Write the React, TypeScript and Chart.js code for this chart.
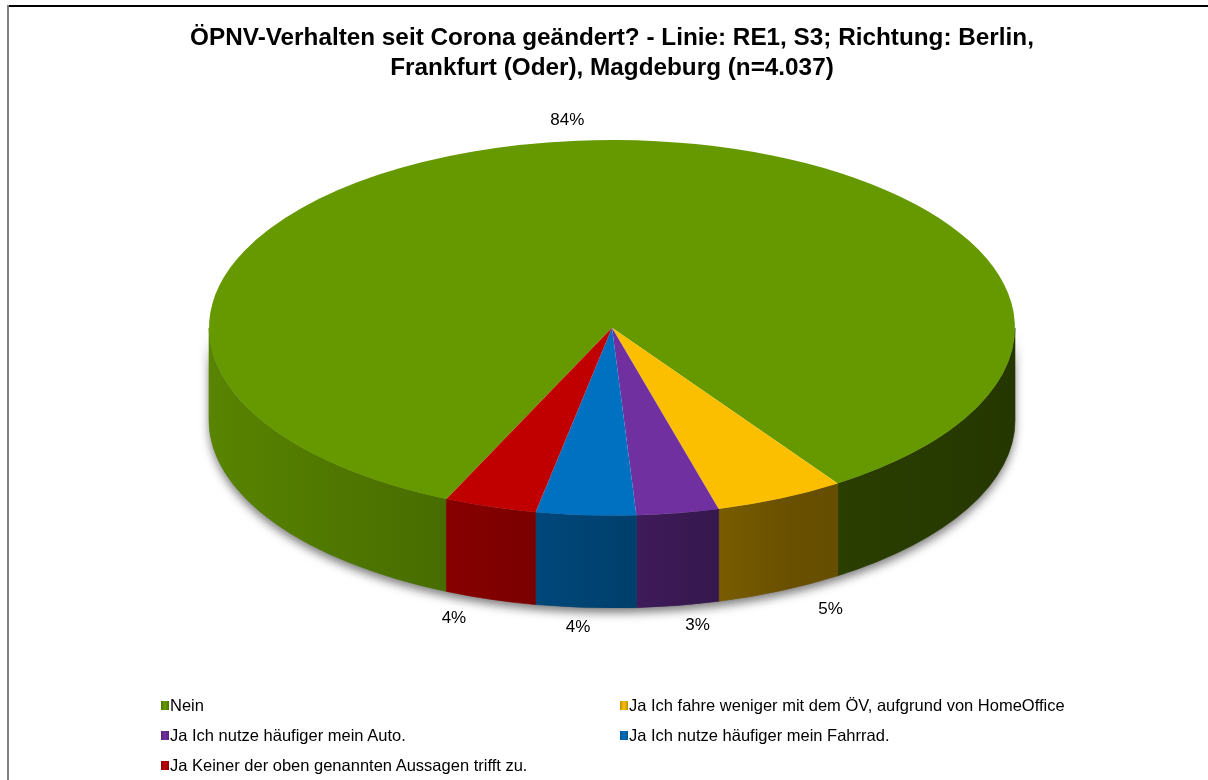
import React, { useEffect, useRef } from "react";
import { Chart, registerables } from "chart.js";

Chart.register(...registerables);

const TITLE_LINES = [
  "ÖPNV-Verhalten seit Corona geändert? - Linie: RE1, S3; Richtung: Berlin,",
  "Frankfurt (Oder), Magdeburg (n=4.037)",
];
const CATEGORIES = [
  "Nein",
  "Ja Ich fahre weniger mit dem ÖV, aufgrund von HomeOffice",
  "Ja Ich nutze häufiger mein Auto.",
  "Ja Ich nutze häufiger mein Fahrrad.",
  "Ja Keiner der oben genannten Aussagen trifft zu.",
];
const VALUES = [83.8, 5.2, 3.3, 4.0, 3.7];
const COLORS = ["#669900", "#FBBF00", "#7030A0", "#0070C0", "#C00000"];

const TILT = 0.466; // vertical squash of the pie top (ry / rx)
const SIDE_DEPTH = 0.1974; // side wall height as share of the plot height
const ROTATION = 204.25; // degrees
const FONT = "'Liberation Sans', Arial, sans-serif";

function hexToRgb(hex: string) {
  const h = hex.replace("#", "");
  return [parseInt(h.slice(0, 2), 16), parseInt(h.slice(2, 4), 16), parseInt(h.slice(4, 6), 16)];
}
function shade(hex: string, f: number) {
  const [r, g, b] = hexToRgb(hex);
  return `rgb(${Math.round(r * f)},${Math.round(g * f)},${Math.round(b * f)})`;
}

function geom(chart: any) {
  const a = chart.chartArea;
  const h = a.bottom - a.top;
  const depth = h * SIDE_DEPTH;
  const ry = (h - depth) / 2;
  const rx = ry / TILT;
  const cx = (a.left + a.right) / 2;
  const cy = a.top + ry;
  return { rx, ry, depth, cx, cy, meta: chart.getDatasetMeta(0) };
}

const SIDE_STOPS: [number, number][] = [
  [0, 0.86],
  [0.25, 0.73],
  [0.5, 0.58],
  [0.72, 0.42],
  [1, 0.36],
];

const pie3d = {
  id: "pie3d",
  beforeDatasetsDraw(chart: any) {
    const { ctx } = chart;
    const g = geom(chart);
    const els = g.meta.data;
    if (!els.length) return;

    // drop shadow of the front silhouette
    ctx.save();
    ctx.beginPath();
    ctx.ellipse(g.cx, g.cy + g.depth, g.rx, g.ry, 0, 0, Math.PI);
    ctx.lineTo(g.cx - g.rx, g.cy);
    ctx.ellipse(g.cx, g.cy, g.rx, g.ry, 0, Math.PI, 0, true);
    ctx.closePath();
    ctx.fillStyle = "#777";
    ctx.shadowColor = "rgba(0,0,0,0.5)";
    ctx.shadowBlur = 10;
    ctx.shadowOffsetY = 5;
    ctx.fill();
    ctx.restore();

    // side walls
    els.forEach((el: any, i: number) => {
      const start = el.startAngle;
      const end = el.endAngle;
      const grad = ctx.createLinearGradient(g.cx - g.rx, 0, g.cx + g.rx, 0);
      SIDE_STOPS.forEach(([t, f]) => grad.addColorStop(t, shade(COLORS[i], f)));
      for (let k = -2; k <= 2; k++) {
        const a = Math.max(start, 2 * Math.PI * k);
        const b = Math.min(end, 2 * Math.PI * k + Math.PI);
        if (b <= a) continue;
        ctx.save();
        ctx.beginPath();
        ctx.ellipse(g.cx, g.cy, g.rx, g.ry, 0, a, b);
        ctx.ellipse(g.cx, g.cy + g.depth, g.rx, g.ry, 0, b, a, true);
        ctx.closePath();
        ctx.fillStyle = grad;
        ctx.fill();
        ctx.strokeStyle = grad;
        ctx.lineWidth = 0.6;
        ctx.stroke();
        ctx.restore();
      }
    });

    // squash the library's own arcs into the tilted top face
    const el0 = els[0];
    const R = el0.outerRadius;
    ctx.save();
    ctx.translate(g.cx, g.cy);
    ctx.scale(g.rx / R, g.ry / R);
    ctx.translate(-el0.x, -el0.y);
  },
  afterDatasetsDraw(chart: any) {
    const { ctx } = chart;
    const g = geom(chart);
    if (!g.meta.data.length) return;
    ctx.restore();

    const total = VALUES.reduce((s, v) => s + v, 0);
    ctx.save();
    ctx.font = `17px ${FONT}`;
    ctx.fillStyle = "#000";
    ctx.textAlign = "center";
    ctx.textBaseline = "middle";
    g.meta.data.forEach((el: any, i: number) => {
      const mid = (el.startAngle + el.endAngle) / 2;
      const c = Math.cos(mid);
      const s = Math.sin(mid);
      const lx = g.cx + (g.rx + 120) * c;
      const ly = g.cy + (s > 0 ? g.depth : 0) + (g.ry + 20) * s;
      ctx.fillText(Math.round((VALUES[i] / total) * 100) + "%", lx, ly);
    });
    ctx.restore();
  },
};

export default function App() {
  const ref = useRef<HTMLCanvasElement>(null);

  useEffect(() => {
    if (!ref.current) return;
    const chart = new Chart(ref.current, {
      type: "pie",
      data: {
        labels: CATEGORIES,
        datasets: [
          {
            data: VALUES,
            backgroundColor: COLORS,
            borderWidth: 0,
            clip: false as any,
          },
        ],
      },
      options: {
        responsive: false,
        animation: false,
        devicePixelRatio: 1,
        rotation: ROTATION,
        layout: { padding: { left: 150, right: 134, top: 0, bottom: 172 } },
        plugins: {
          legend: { display: false },
          tooltip: { enabled: false },
          title: {
            display: true,
            text: TITLE_LINES,
            color: "#000",
            font: { family: FONT, size: 24.3, weight: "bold", lineHeight: 1.235 },
            padding: { top: 23, bottom: 57 },
          },
        },
      },
      plugins: [pie3d],
    });
    return () => chart.destroy();
  }, []);

  const colLeft = [161, 620];
  return (
    <div style={{ position: "fixed", left: 0, top: 0, width: 1208, height: 780, background: "#fff", overflow: "hidden" }}>
      <canvas ref={ref} width={1208} height={780} style={{ position: "absolute", left: 0, top: 0 }} />
      <div style={{ position: "absolute", left: 7, top: 5, width: 1201, height: 2, background: "#000" }} />
      <div style={{ position: "absolute", left: 7, top: 5, width: 2, height: 775, background: "#808080" }} />
      {CATEGORIES.map((c, i) => {
        const col = i % 2;
        const row = Math.floor(i / 2);
        return (
          <div
            key={c}
            style={{
              position: "absolute",
              left: colLeft[col],
              top: 705 + row * 30 - 10,
              height: 20,
              display: "flex",
              alignItems: "center",
              fontFamily: FONT,
              fontSize: 16.5,
              color: "#000",
              whiteSpace: "nowrap",
            }}
          >
            <span
              style={{
                display: "inline-block",
                width: 8,
                height: 9,
                marginRight: 1,
                background: `linear-gradient(to right, ${shade(COLORS[i], 0.75)}, ${COLORS[i]}, ${shade(COLORS[i], 0.75)})`,
              }}
            />
            <span>{c}</span>
          </div>
        );
      })}
    </div>
  );
}
